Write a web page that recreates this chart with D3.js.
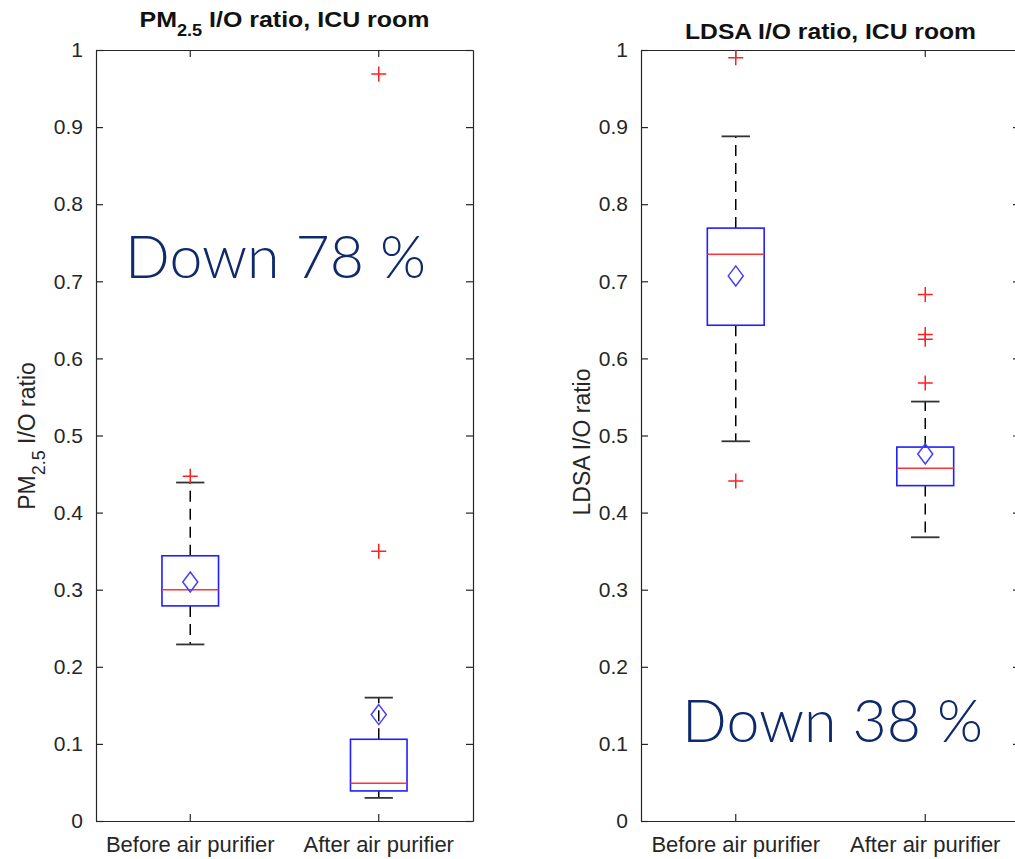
<!DOCTYPE html>
<html>
<head>
<meta charset="utf-8">
<script src="https://cdn.jsdelivr.net/npm/d3@7"></script>
<style>
  body { margin: 0; background: #fff; }
  svg { display: block; }
</style>
</head>
<body>
<svg id="chart" width="1015" height="859"></svg>
<script>
// categories and tick values
const categories = ["Before air purifier", "After air purifier"];
const yTicks = [0, 0.1, 0.2, 0.3, 0.4, 0.5, 0.6, 0.7, 0.8, 0.9, 1];

// PM2.5 I/O ratio box stats (before, after)
const pmLow     = [0.229, 0.030];
const pmQ1      = [0.279, 0.039];
const pmMedian  = [0.300, 0.049];
const pmQ3      = [0.344, 0.106];
const pmHigh    = [0.439, 0.160];
const pmMean    = [0.310, 0.138];
const pmOutliers = [[0.447], [0.350, 0.969]];

// LDSA I/O ratio box stats (before, after)
const ldsaLow     = [0.4925, 0.368];
const ldsaQ1      = [0.643, 0.435];
const ldsaMedian  = [0.735, 0.4575];
const ldsaQ3      = [0.769, 0.485];
const ldsaHigh    = [0.888, 0.544];
const ldsaMean    = [0.707, 0.476];
const ldsaOutliers = [[0.441, 0.990], [0.568, 0.625, 0.631, 0.683]];

const axisColor = "#262626";
const tickLen = 7;
const sans = "'Liberation Sans', Arial, Helvetica, sans-serif";

const svg = d3.select("#chart");

function panel(opts) {
    const x = d3.scaleBand().domain(categories).range([opts.left, opts.right]);
    const y = d3.scaleLinear().domain([0, 1]).range([821, 50]);
    const cx = c => x(c) + x.bandwidth() / 2;
    const boxW = x.bandwidth() * 0.3;
    const g = svg.append("g");

    // axes on all four sides (MATLAB box style, inward ticks)
    const fmt = d3.format("~g");
    const axes = [
        [d3.axisLeft(y).tickValues(yTicks).tickFormat(fmt).tickPadding(13), `translate(${opts.left},0)`, 21],
        [d3.axisRight(y).tickValues(yTicks).tickFormat(""), `translate(${opts.right},0)`, 21],
        [d3.axisBottom(x).tickPadding(15), `translate(0,821)`, 22],
        [d3.axisTop(x).tickFormat(""), `translate(0,50)`, 21]
    ];
    axes.forEach(([ax, tr, fs]) => {
        const a = g.append("g").attr("transform", tr)
            .call(ax.tickSize(-tickLen).tickSizeOuter(0));
        a.select(".domain").attr("stroke", axisColor).attr("stroke-width", 1.2);
        a.selectAll(".tick line").attr("stroke", axisColor).attr("stroke-width", 1.2);
        a.selectAll("text").attr("fill", axisColor)
            .style("font-size", fs + "px").style("font-family", sans);
    });

    const idx = categories.map((c, i) => i);

    // whiskers (dashed)
    g.selectAll(".whiskUp").data(idx).join("line")
        .attr("x1", i => cx(categories[i])).attr("x2", i => cx(categories[i]))
        .attr("y1", i => y(opts.q3[i])).attr("y2", i => y(opts.high[i]))
        .attr("stroke", "#000").attr("stroke-width", 1.5).attr("stroke-dasharray", "11,7");
    g.selectAll(".whiskDn").data(idx).join("line")
        .attr("x1", i => cx(categories[i])).attr("x2", i => cx(categories[i]))
        .attr("y1", i => y(opts.q1[i])).attr("y2", i => y(opts.low[i]))
        .attr("stroke", "#000").attr("stroke-width", 1.5).attr("stroke-dasharray", "11,7");

    // caps
    [opts.high, opts.low].forEach(arr => {
        g.append("g").selectAll("line").data(idx).join("line")
            .attr("x1", i => cx(categories[i]) - boxW / 4)
            .attr("x2", i => cx(categories[i]) + boxW / 4)
            .attr("y1", i => y(arr[i])).attr("y2", i => y(arr[i]))
            .attr("stroke", "#333").attr("stroke-width", 1.8);
    });

    // boxes
    g.append("g").selectAll("rect").data(idx).join("rect")
        .attr("x", i => cx(categories[i]) - boxW / 2)
        .attr("width", boxW)
        .attr("y", i => y(opts.q3[i]))
        .attr("height", i => y(opts.q1[i]) - y(opts.q3[i]))
        .attr("fill", "none").attr("stroke", "#1f1fff").attr("stroke-width", 1.6);

    // medians
    g.append("g").selectAll("line").data(idx).join("line")
        .attr("x1", i => cx(categories[i]) - boxW / 2)
        .attr("x2", i => cx(categories[i]) + boxW / 2)
        .attr("y1", i => y(opts.median[i])).attr("y2", i => y(opts.median[i]))
        .attr("stroke", "#ff3333").attr("stroke-width", 1.6);

    // mean diamonds
    g.append("g").selectAll("path").data(idx).join("path")
        .attr("d", i => {
            const px = cx(categories[i]), py = y(opts.mean[i]);
            return `M${px},${py - 10} L${px + 7.5},${py} L${px},${py + 10} L${px - 7.5},${py} Z`;
        })
        .attr("fill", "none").attr("stroke", "#4040ff").attr("stroke-width", 1.5);

    // outliers
    const pts = [];
    opts.outliers.forEach((arr, i) => arr.forEach(v => pts.push({c: categories[i], v})));
    g.append("g").selectAll("path").data(pts).join("path")
        .attr("d", d => {
            const px = cx(d.c), py = y(d.v);
            return `M${px - 7.5},${py} H${px + 7.5} M${px},${py - 7.5} V${py + 7.5}`;
        })
        .attr("stroke", "#ff2020").attr("stroke-width", 1.5).attr("fill", "none");

    // title
    const mid = (opts.left + opts.right) / 2;
    const t = g.append("text").attr("x", mid).attr("y", opts.titleY)
        .attr("text-anchor", "middle").attr("fill", "#111")
        .attr("textLength", opts.titleLen).attr("lengthAdjust", "spacingAndGlyphs")
        .style("font-family", sans).style("font-weight", "bold").style("font-size", "22px");
    opts.title.forEach(p => {
        const ts = t.append("tspan").text(p.t);
        if (p.sub) ts.attr("baseline-shift", "sub").style("font-size", "16px");
    });

    // y label
    const yl = g.append("text")
        .attr("transform", `translate(${opts.labelX},${opts.labelY}) rotate(-90)`)
        .attr("text-anchor", "middle").attr("fill", axisColor)
        .style("font-family", sans).style("font-size", "23px");
    opts.ylabel.forEach(p => {
        const ts = yl.append("tspan").text(p.t);
        if (p.sub) ts.attr("baseline-shift", "sub").style("font-size", "18px");
    });

    // annotation
    g.append("text").attr("x", opts.note.x).attr("y", opts.note.y)
        .attr("fill", "#0f2a6b")
        .style("font-family", "Lato, 'Open Sans', sans-serif").style("font-weight", 300)
        .style("font-size", "59px")
        .text(opts.note.t);
}

panel({
    left: 96, right: 473, titleY: 27, labelX: 35, labelY: 436, titleLen: 290,
    low: pmLow, q1: pmQ1, median: pmMedian, q3: pmQ3, high: pmHigh, mean: pmMean, outliers: pmOutliers,
    title: [{t: "PM"}, {t: "2.5", sub: true}, {t: " I/O ratio, ICU room"}],
    ylabel: [{t: "PM"}, {t: "2.5", sub: true}, {t: " I/O ratio"}],
    note: {t: "Down 78 %", x: 125, y: 278}
});

panel({
    left: 641, right: 1020, titleY: 39, labelX: 590, labelY: 442, titleLen: 291,
    low: ldsaLow, q1: ldsaQ1, median: ldsaMedian, q3: ldsaQ3, high: ldsaHigh, mean: ldsaMean, outliers: ldsaOutliers,
    title: [{t: "LDSA I/O ratio, ICU room"}],
    ylabel: [{t: "LDSA I/O ratio"}],
    note: {t: "Down 38 %", x: 682, y: 742}
});
</script>
</body>
</html>
